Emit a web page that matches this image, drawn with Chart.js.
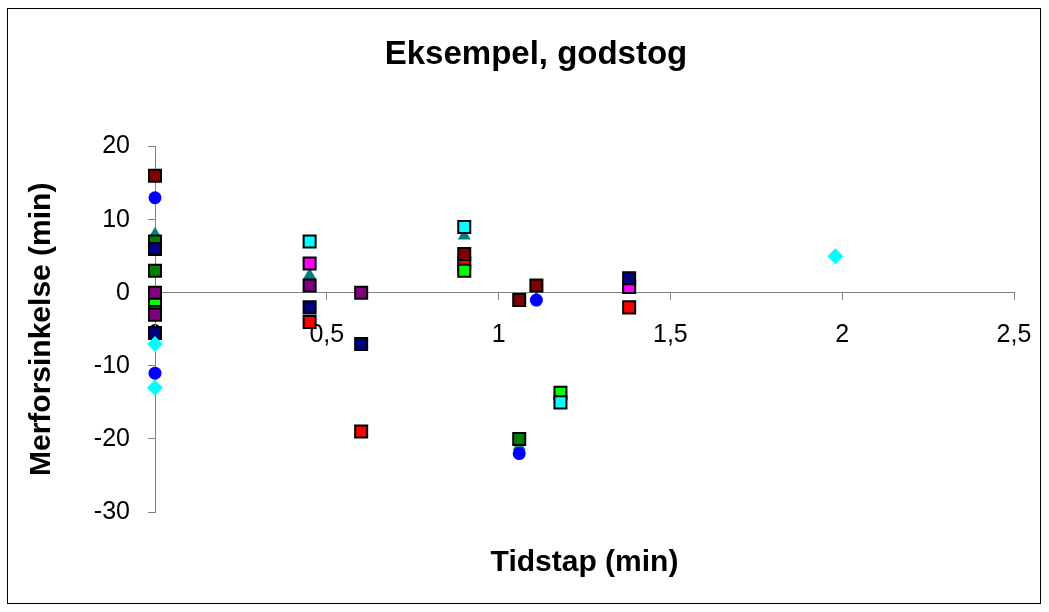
<!DOCTYPE html>
<html>
<head>
<meta charset="utf-8">
<script src="https://cdn.jsdelivr.net/npm/chart.js@4.4.1/dist/chart.umd.min.js"></script>
<style>
  html, body { margin: 0; padding: 0; background: #ffffff; }
  #wrap { width: 1049px; height: 612px; }
</style>
</head>
<body>
<div id="wrap"><canvas id="chart" width="1049" height="612"></canvas></div>
<script>
// Axis ticks
const xTickValues = [0, 0.5, 1, 1.5, 2, 2.5];
const xTickLabels = ['0', '0,5', '1', '1,5', '2', '2,5'];
const yTickValues = [-30, -20, -10, 0, 10, 20];

// Series values (tidstap in min, merforsinkelse in min)
const cyanDiamondX = [0, 0, 1.98];
const cyanDiamondY = [-7, -13, 5];

const purpleX = [0, 0, 0.45, 0.6];
const purpleY = [0, -3, 1, 0];

const navyX = [0, 0, 0.45, 0.6, 1.38];
const navyY = [6, -5.5, -2, -7, 2];

const darkGreenX = [0, 0, 1.06];
const darkGreenY = [7, 3, -20];

const blueCircleX = [0, 0, 1.06, 1.11];
const blueCircleY = [13, -11, -22, -1];

const maroonX = [0, 0.9, 1.06, 1.11];
const maroonY = [16, 5.3, -1, 1];

const cyanSquareX = [0.45, 0.9, 1.18];
const cyanSquareY = [7, 9, -15];

const limeX = [0, 0.9, 1.18];
const limeY = [-1, 3, -13.7];

const magentaX = [0.45, 1.38];
const magentaY = [4, 0.8];

const redX = [0, 0.45, 0.6, 0.9, 1.38];
const redY = [-2, -4, -19, 4, -2];

const tealTriangleX = [0, 0.45, 0.9, 1.06, 1.11];
const tealTriangleY = [8, 2.4, 7.8, -21, -0.8];

const FONT = "'Liberation Sans', Arial, sans-serif";

function pts(xs, ys) { return xs.map((x, i) => ({ x: x, y: ys[i] })); }

function squareSet(label, xs, ys, color) {
  return {
    label: label, data: pts(xs, ys), pointStyle: 'rect', pointRadius: 8.5,
    backgroundColor: color, borderColor: '#000000', borderWidth: 2, clip: false
  };
}

// First dataset is painted last (on top)
const datasets = [
  { label: 'Serie 11', data: pts(cyanDiamondX, cyanDiamondY), pointStyle: 'rectRot', pointRadius: 8,
    backgroundColor: '#00FFFF', borderColor: '#00FFFF', borderWidth: 0, clip: false },
  squareSet('Serie 10', purpleX, purpleY, '#800080'),
  squareSet('Serie 9', navyX, navyY, '#000080'),
  squareSet('Serie 8', darkGreenX, darkGreenY, '#008000'),
  { label: 'Serie 7', data: pts(blueCircleX, blueCircleY), pointStyle: 'circle', pointRadius: 6.5,
    backgroundColor: '#0000FF', borderColor: '#0000FF', borderWidth: 0, clip: false },
  squareSet('Serie 6', maroonX, maroonY, '#800000'),
  squareSet('Serie 5', cyanSquareX, cyanSquareY, '#00FFFF'),
  squareSet('Serie 4', limeX, limeY, '#00FF00'),
  squareSet('Serie 3', magentaX, magentaY, '#FF00FF'),
  squareSet('Serie 2', redX, redY, '#FF0000'),
  { label: 'Serie 1', data: pts(tealTriangleX, tealTriangleY), pointStyle: 'triangle', pointRadius: 7.5,
    backgroundColor: '#008080', borderColor: '#008080', borderWidth: 0, clip: false }
];

// White background and outer frame
const framePlugin = {
  id: 'frame',
  beforeDraw(chart) {
    const ctx = chart.ctx;
    ctx.save();
    ctx.fillStyle = '#ffffff';
    ctx.fillRect(0, 0, chart.width, chart.height);
    ctx.strokeStyle = '#000000';
    ctx.lineWidth = 1;
    ctx.strokeRect(7.5, 8.5, 1033, 595);
    ctx.restore();
  }
};

new Chart(document.getElementById('chart'), {
  type: 'scatter',
  data: { datasets: datasets },
  plugins: [framePlugin],
  options: {
    responsive: false,
    devicePixelRatio: 1,
    animation: false,
    events: [],
    layout: { padding: { left: 23, right: 0, top: 0, bottom: 0 } },
    plugins: {
      legend: { display: false },
      tooltip: { enabled: false },
      title: {
        display: true, text: 'Eksempel, godstog', color: '#000000',
        font: { family: FONT, size: 33, weight: 'bold', lineHeight: 1.2 },
        padding: { top: 35, bottom: 72 }
      },
      subtitle: {
        display: true, position: 'bottom', fullSize: false, text: 'Tidstap (min)', color: '#000000',
        font: { family: FONT, size: 30, weight: 'bold', lineHeight: 1.2 },
        padding: { top: 33, bottom: 31 }
      }
    },
    scales: {
      x: {
        type: 'linear', min: 0, max: 2.5,
        position: { y: 0 },
        afterBuildTicks(s) { s.ticks = xTickValues.map(v => ({ value: v })); },
        afterFit(s) { s.height = 0; s.paddingRight = 35; },
        ticks: {
          color: '#000000', padding: 20, autoSkip: false, maxRotation: 0,
          font: { family: FONT, size: 25 },
          callback(v, i) { return xTickLabels[i]; }
        },
        grid: { drawOnChartArea: false, drawTicks: true, tickLength: 7, tickColor: '#808080', tickWidth: 1 },
        border: { display: true, color: '#808080', width: 1 }
      },
      y: {
        type: 'linear', min: -30, max: 20,
        afterBuildTicks(s) { s.ticks = yTickValues.map(v => ({ value: v })); },
        afterFit(s) { s.width = 132; },
        title: {
          display: true, text: 'Merforsinkelse (min)', color: '#000000',
          font: { family: FONT, size: 30, weight: 'bold', lineHeight: 1.2 },
          padding: { top: 1, bottom: 0 }
        },
        ticks: {
          color: '#000000', padding: 18,
          font: { family: FONT, size: 25 }
        },
        grid: { drawOnChartArea: false, drawTicks: true, tickLength: 7, tickColor: '#808080', tickWidth: 1 },
        border: { display: true, color: '#808080', width: 1 }
      }
    }
  }
});
</script>
</body>
</html>
